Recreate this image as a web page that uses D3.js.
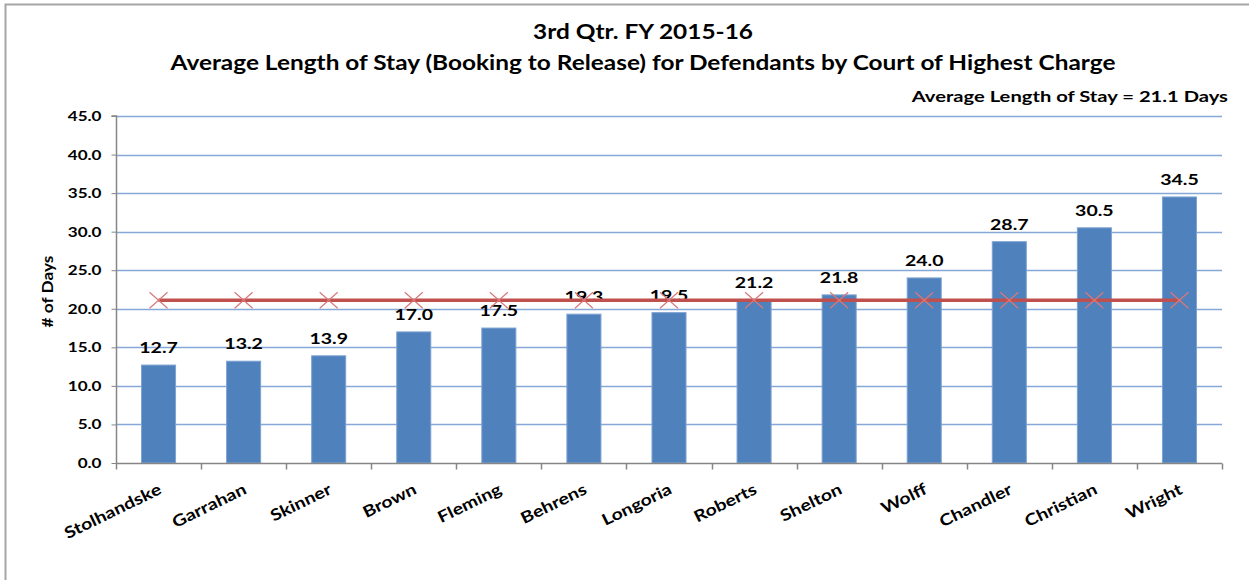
<!DOCTYPE html>
<html>
<head>
<meta charset="utf-8">
<script src="https://cdn.jsdelivr.net/npm/d3@7"></script>
<style>
  body { margin: 0; background: #fff; }
  text { font-family: "Lato", "Open Sans", sans-serif; font-weight: bold; fill: #000; }
</style>
</head>
<body>
<div id="chart"></div>
<script>
let width = 1249;
let height = 580;

let judges = ["Stolhandske", "Garrahan", "Skinner", "Brown", "Fleming", "Behrens", "Longoria",
              "Roberts", "Shelton", "Wolff", "Chandler", "Christian", "Wright"];
let daysValues = [12.7, 13.2, 13.9, 17.0, 17.5, 19.3, 19.5, 21.2, 21.8, 24.0, 28.7, 30.5, 34.5];
let averageValue = 21.1;
let yTicks = [0, 5, 10, 15, 20, 25, 30, 35, 40, 45];

let plot = {left: 116, right: 1222, top: 116, bottom: 463};
let stretch = 1.22;

// the original picture is a bit wider than tall, so widen glyphs a little
function widen(sel, k) {
	sel.each(function(){
		let len = this.getComputedTextLength();
		d3.select(this)
			.attr("textLength", len * (k || stretch))
			.attr("lengthAdjust", "spacingAndGlyphs");
	});
}

let svg = d3.select("#chart").append("svg")
            .attr("width", width)
            .attr("height", height);

svg.append("rect")
    .attr("x", 5.5).attr("y", 4.5)
    .attr("width", width + 10).attr("height", height + 10)
    .attr("fill", "white")
    .attr("stroke", "#a6a6a6")
    .attr("stroke-width", 2);

let xScale = d3.scaleBand()
                .domain(judges)
                .range([plot.left, plot.right])
                .paddingInner(0.6)
                .paddingOuter(0.3);

let yScale = d3.scaleLinear()
                .domain([0, 45])
                .range([plot.bottom, plot.top]);

// gridlines
svg.append("g")
    .selectAll("line")
    .data(yTicks.filter(d => d > 0))
    .enter()
    .append("line")
    .attr("x1", plot.left).attr("x2", plot.right)
    .attr("y1", d => Math.round(yScale(d)) + 0.5)
    .attr("y2", d => Math.round(yScale(d)) + 0.5)
    .attr("stroke", "#86a8d8")
    .attr("stroke-width", 1.5);

// bars
svg.append("g")
    .selectAll("rect")
    .data(daysValues)
    .enter()
    .append("rect")
    .attr("x", (d, i) => xScale(judges[i]))
    .attr("y", d => yScale(d))
    .attr("width", xScale.bandwidth())
    .attr("height", d => plot.bottom - yScale(d))
    .attr("fill", "#4f81bd")
    .attr("stroke", "#7ea2d2")
    .attr("stroke-width", 1);

// data labels
svg.append("g")
    .selectAll("text")
    .data(daysValues)
    .enter()
    .append("text")
    .attr("x", (d, i) => xScale(judges[i]) + xScale.bandwidth() / 2)
    .attr("y", d => yScale(d) - 12)
    .attr("text-anchor", "middle")
    .attr("font-size", "16px")
    .text(d => d.toFixed(1))
    .call(widen);

// average line
let cx = d => xScale(d) + xScale.bandwidth() / 2;
svg.append("line")
    .attr("x1", cx(judges[0]))
    .attr("x2", cx(judges[judges.length - 1]))
    .attr("y1", yScale(averageValue))
    .attr("y2", yScale(averageValue))
    .attr("stroke", "#c0504d")
    .attr("stroke-width", 3.5);

let markers = svg.append("g")
    .selectAll("g")
    .data(judges)
    .enter()
    .append("g")
    .attr("transform", d => `translate(${cx(d)},${yScale(averageValue)})`);
markers.append("path")
    .attr("d", "M-9,-8L9,8M-9,8L9,-8")
    .attr("stroke", "#d9787a")
    .attr("stroke-width", 1.2)
    .attr("fill", "none");

// axes
let yAxis = d3.axisLeft(yScale)
                .tickValues(yTicks)
                .tickSize(5)
                .tickFormat(d3.format(".1f"));

let yG = svg.append("g")
    .attr("transform", `translate(${plot.left + 0.5},0)`)
    .call(yAxis);
yG.select(".domain").attr("stroke", "#868686").attr("stroke-width", 1.5).attr("d", `M-5,${plot.top}H0V${plot.bottom}`);
yG.selectAll(".tick line").attr("stroke", "#868686");
yG.selectAll(".tick text")
    .attr("x", -15)
    .attr("font-size", "14px")
    .attr("font-family", "Lato, sans-serif")
    .call(widen);

let xAxis = d3.axisBottom(xScale).tickSize(0).tickFormat("");
let xG = svg.append("g")
    .attr("transform", `translate(0,${plot.bottom + 0.5})`)
    .call(xAxis);
xG.select(".domain").attr("stroke", "#868686").attr("stroke-width", 1.5).attr("d", `M${plot.left},0H${plot.right}`);

// tick marks at band boundaries
xG.append("g")
    .selectAll("line")
    .data(d3.range(judges.length + 1))
    .enter()
    .append("line")
    .attr("x1", i => Math.round(plot.left + i * (plot.right - plot.left) / judges.length) + 0.5)
    .attr("x2", i => Math.round(plot.left + i * (plot.right - plot.left) / judges.length) + 0.5)
    .attr("y1", 0).attr("y2", 6)
    .attr("stroke", "#868686")
    .attr("stroke-width", 1.5);

svg.append("g")
    .selectAll("text")
    .data(judges)
    .enter()
    .append("text")
    .attr("text-anchor", "end")
    .attr("font-size", "16px")
    .attr("transform", d => `translate(${cx(d) + 4},${plot.bottom + 30}) rotate(-26)`)
    .text(d => d)
    .call(widen);

// axis title
svg.append("text")
    .attr("transform", `translate(53,${(plot.top + plot.bottom) / 2 + 2}) rotate(-90)`)
    .attr("text-anchor", "middle")
    .attr("font-size", "15px")
    .text("# of Days")
    .call(widen, 1.15);

// titles
svg.append("text")
    .attr("x", 643).attr("y", 39)
    .attr("text-anchor", "middle")
    .attr("font-size", "20px")
    .text("3rd Qtr. FY 2015-16")
    .call(widen);

svg.append("text")
    .attr("x", 643).attr("y", 70)
    .attr("text-anchor", "middle")
    .attr("font-size", "20px")
    .text("Average Length of Stay (Booking to Release) for Defendants by Court of Highest Charge")
    .call(widen);

svg.append("text")
    .attr("x", 1228).attr("y", 102)
    .attr("text-anchor", "end")
    .attr("font-size", "16px")
    .text("Average Length of Stay = 21.1 Days")
    .call(widen, 1.26);
</script>
</body>
</html>
